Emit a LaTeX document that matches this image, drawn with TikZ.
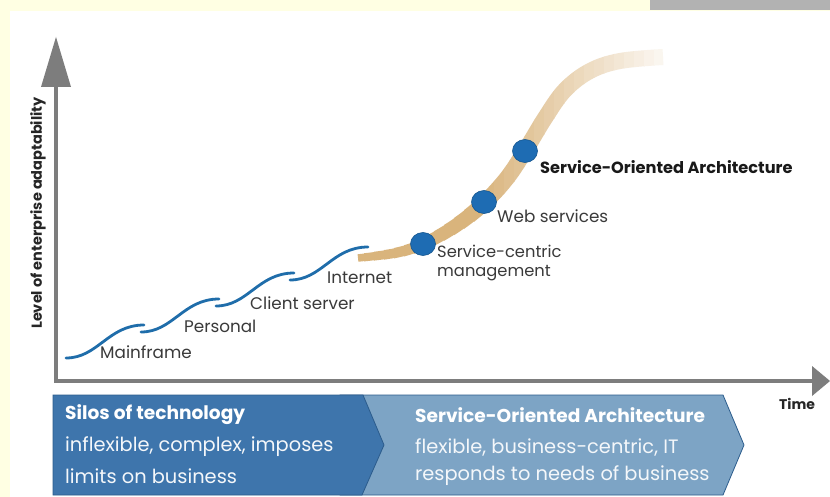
\documentclass[tikz,border=0pt]{standalone}
\usepackage{fontspec}
\setmainfont{Poppins}
\usetikzlibrary{shapes.geometric}
\definecolor{cream}{HTML}{FFFFE3}
\definecolor{topgray}{HTML}{B2B2B2}
\definecolor{axisgray}{HTML}{7D7D7D}
\definecolor{wave}{HTML}{1F6DAA}
\definecolor{tanc}{HTML}{D9B47C}
\definecolor{dotblue}{HTML}{1E6CB3}
\definecolor{dotedge}{HTML}{15568F}
\definecolor{darkband}{HTML}{3E75AC}
\definecolor{lightband}{HTML}{7DA4C5}
\definecolor{bandedge}{HTML}{2C5C8C}
\definecolor{labelc}{HTML}{3A3A3A}
\definecolor{bandtext}{HTML}{F4F7FA}
\begin{document}
\begin{tikzpicture}[x=1pt,y=-1pt,
  wavestyle/.style={draw=wave,line width=2.8pt,line cap=round},
  lbl/.style={anchor=west,inner sep=0pt,text=labelc,font=\fontsize{16.8}{19}\selectfont},
  bandtitle/.style={anchor=west,inner sep=0pt,text=white,font=\bfseries\fontsize{18.6}{21}\selectfont},
  bandline/.style={anchor=west,inner sep=0pt,text=bandtext,font=\fontsize{19.4}{22}\selectfont},
  dotstyle/.style={ellipse,minimum width=25pt,minimum height=23pt,inner sep=0pt,fill=dotblue,draw=dotedge,line width=0.6pt}]
\useasboundingbox (0,0) rectangle (830,497);
% background
\fill[cream] (0,0) rectangle (830,497);
\fill[white] (10,11) rectangle (830,497);
\fill[topgray] (650,0) rectangle (830,10);
% axes
\draw[axisgray,line width=4pt,line join=miter] (56,86) -- (56,381) -- (813,381);
\fill[axisgray] (41,87) -- (56,37) -- (71,87) -- cycle;
\fill[axisgray] (812,366) -- (830,381) -- (812,396) -- cycle;
\node[rotate=90,inner sep=0pt,font=\bfseries\fontsize{14.5}{16}\selectfont,text=black!85] (ylab) at (38,213) {Level of enterprise adaptability};
\node[anchor=west,inner sep=0pt,font=\bfseries\fontsize{14}{16}\selectfont,text=black!85] (tlab) at (779,404) {Time};
% tan S-curve with fading
\foreach \i in {0,...,32} {
  \pgfmathsetmacro\xa{354+10*\i}
  \pgfmathtruncatemacro\pct{100-90*max(0,min(1,(\xa-475)/185))}
  \pgfmathsetmacro\lw{min(16,7.5+9*max(0,(\xa-355)/130))}
  \begin{scope}
    \clip (\xa,0) rectangle (\xa+10.6,497);
    \draw[line width=\lw pt,draw=tanc!\pct!white] plot[smooth,tension=0.6] coordinates {(358,258) (395,253) (423,244) (455,226) (484,203) (507,178) (525,151) (545,118) (565,90) (590,71) (620,61) (663,57)};
  \end{scope}
}
% blue steps
\foreach \x/\y in {66/358,141/332,216/306,290/280} {
  \draw[wavestyle] (\x,\y) .. controls (\x+32,\y) and (\x+42,\y-33) .. (\x+78,\y-33);
}
% step labels
\node[lbl] (mainframe) at (100,352) {Mainframe};
\node[lbl] (personal) at (184,326) {Personal};
\node[lbl] (client) at (250,303) {Client server};
\node[lbl] (internet) at (327,278) {Internet};
% dots
\node[dotstyle] (d1) at (423,244) {};
\node[dotstyle] (d2) at (484,202) {};
\node[dotstyle] (d3) at (525,151) {};
\node[lbl,align=left,font=\fontsize{16.3}{19.5}\selectfont] (scm) at (437,263) {Service-centric\\management};
\node[lbl] (web) at (497,216) {Web services};
\node[lbl,text=black!90,font=\bfseries\fontsize{16.2}{18}\selectfont] (soa) at (540,167) {Service-Oriented Architecture};
% bottom band
\path[fill=lightband,draw=bandedge,line width=0.8pt] (340,395) -- (723,395) -- (744,445) -- (723,495) -- (340,495) -- cycle;
\path[fill=darkband,draw=bandedge,line width=0.8pt] (53,395) -- (363,395) -- (384,445) -- (362,495) -- (53,495) -- cycle;
\node[bandtitle] (silos) at (65,415) {Silos of technology};
\node[bandline] (silos1) at (65,447) {inflexible, complex, imposes};
\node[bandline] (silos2) at (65,476) {limits on business};
\node[bandtitle] (soab) at (415,415) {Service-Oriented Architecture};
\node[bandline] (soab1) at (415,447) {flexible, business-centric, IT};
\node[bandline] (soab2) at (415,476) {responds to needs of business};
\end{tikzpicture}
\end{document}
